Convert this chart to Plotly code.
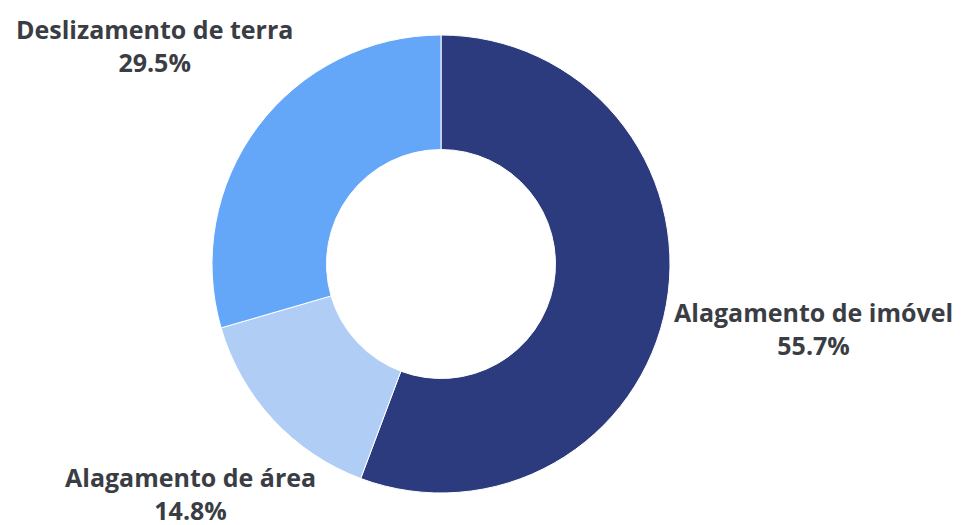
import math
import plotly.graph_objects as go

labels = ["Alagamento de imóvel", "Alagamento de área", "Deslizamento de terra"]
values = [55.7, 14.8, 29.5]
colors = ["#2C3A7E", "#AFCDF5", "#64A6F8"]

# layout geometry (pixels)
W, H = 970, 525
CX, CY, R = 441, 264, 229
label_dist = [1.655, 1.49, 1.565]  # label centre distance in units of R

fig = go.Figure(go.Pie(
    labels=labels,
    values=values,
    hole=0.5,
    sort=False,
    direction="clockwise",
    rotation=0,
    marker=dict(colors=colors, line=dict(color="white", width=1)),
    textinfo="none",
    hoverinfo="label+percent",
    showlegend=False,
    domain=dict(x=[(CX - R) / W, (CX + R) / W], y=[(H - CY - R) / H, (H - CY + R) / H]),
))

total = sum(values)
start = 90.0
for lab, val, k in zip(labels, values, label_dist):
    sweep = 360.0 * val / total
    mid = math.radians(start - sweep / 2)
    start -= sweep
    px = CX + k * R * math.cos(mid)
    py = CY - k * R * math.sin(mid)
    fig.add_annotation(
        x=px / W, y=1 - py / H, xref="paper", yref="paper",
        text=f"{lab}<br>{100 * val / total:.1f}%",
        showarrow=False, xanchor="center", yanchor="middle", yshift=3,
        font=dict(family="Open Sans", size=25, color="#3A3D44", weight="bold"),
    )

fig.update_layout(
    width=W, height=H,
    margin=dict(l=0, r=0, t=0, b=0),
    paper_bgcolor="white",
    plot_bgcolor="white",
)

fig.write_html("out.html")
